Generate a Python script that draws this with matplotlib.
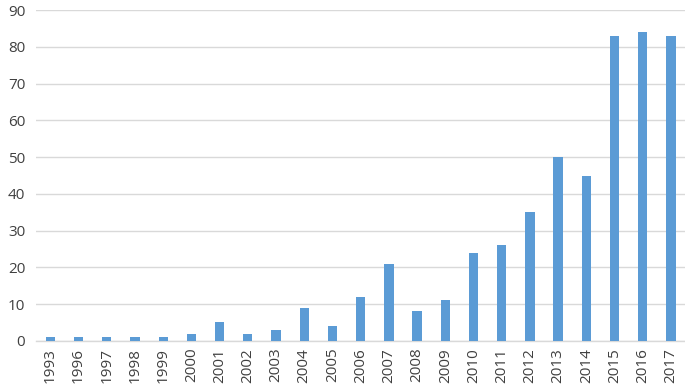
import matplotlib
matplotlib.use("Agg")
import matplotlib.pyplot as plt

years = ["1993", "1996", "1997", "1998", "1999", "2000", "2001", "2002", "2003",
         "2004", "2005", "2006", "2007", "2008", "2009", "2010", "2011", "2012",
         "2013", "2014", "2015", "2016", "2017"]
counts = [1, 1, 1, 1, 1, 2, 5, 2, 3, 9, 4, 12, 21, 8, 11, 24, 26, 35, 50, 45, 83, 84, 83]
yticks = [0, 10, 20, 30, 40, 50, 60, 70, 80, 90]

plt.rcParams['font.family'] = ['Open Sans', 'DejaVu Sans']

fig = plt.figure(figsize=(6.85, 3.9), dpi=100)
ax = fig.add_axes([0.053, 0.126, 0.947, 0.848])
x = list(range(len(years)))
ax.bar(x, counts, width=0.33, color="#5B9BD5", zorder=3)
ax.set_xlim(-0.5, len(years) - 0.5)
ax.set_ylim(0, 90)
ax.set_yticks(yticks)
ax.set_xticks(x)
ax.set_xticklabels(years, rotation=90, fontsize=11, color="#404040")
ax.tick_params(axis='y', labelsize=11, labelcolor="#404040", length=0, pad=8)
ax.tick_params(axis='x', length=0, pad=5)
ax.grid(axis='y', color="#D9D9D9", linewidth=1, zorder=0)
for s in ["top", "right", "left"]:
    ax.spines[s].set_visible(False)
ax.spines["bottom"].set_color("#D9D9D9")
ax.spines["bottom"].set_linewidth(1)
fig.savefig("out.png", dpi=100)
